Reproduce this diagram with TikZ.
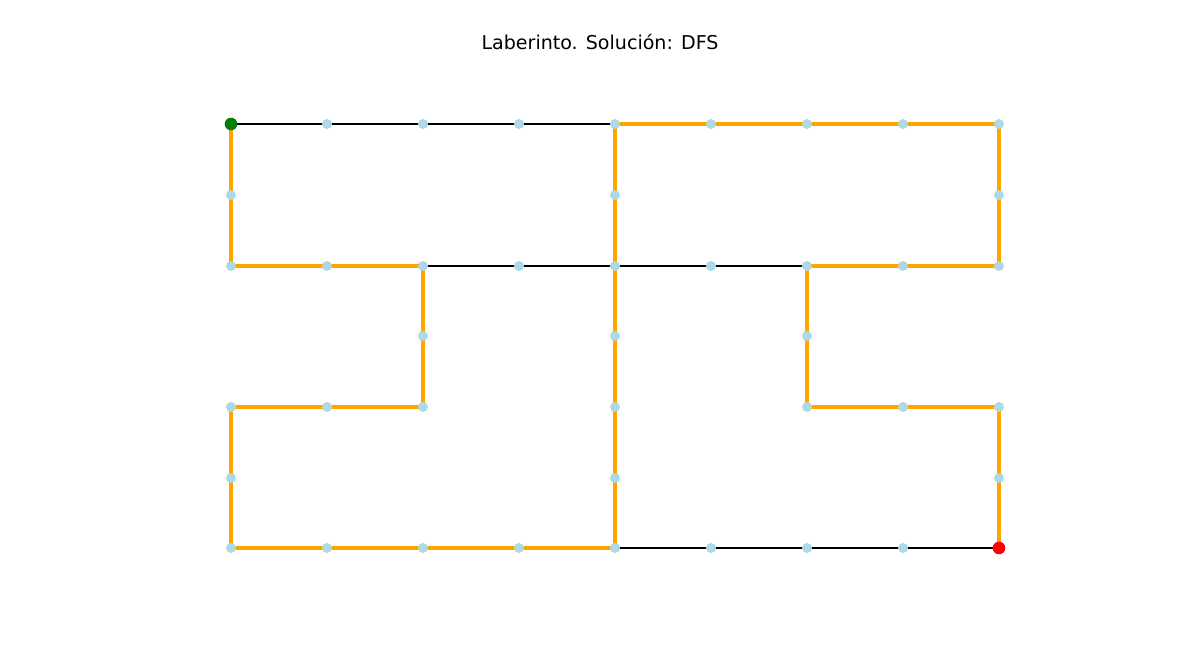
\documentclass[tikz,border=0pt]{standalone}
\usepackage{fontspec}
\setmainfont{DejaVu Sans}
\definecolor{mplorange}{HTML}{FFA500}
\definecolor{mplblue}{HTML}{ADD8E6}
\definecolor{mplgreen}{HTML}{008000}
\definecolor{mplred}{HTML}{FF0000}
\tikzset{
  pt/.style={circle,fill=mplblue,inner sep=0pt,minimum size=7.5pt},
  startpt/.style={circle,fill=mplgreen,inner sep=0pt,minimum size=9.5pt},
  endpt/.style={circle,fill=mplred,inner sep=0pt,minimum size=9.5pt},
  wall/.style={draw=black,line width=1pt},
  path/.style={draw=mplorange,line width=2.4pt},
}
\begin{document}
\begin{tikzpicture}[x=0.75pt,y=-0.75pt]
\useasboundingbox (0,0) rectangle (1200,666);
\node[font=\fontsize{14.3pt}{17pt}\selectfont] (title) at (600,42) {Laberinto. Solución: DFS};
% coordinates
\foreach \c/\x in {0/231,1/327,2/423,3/519,4/615,5/711,6/807,7/903,8/999}{
  \foreach \r/\y in {0/124,1/195,2/266,3/336,4/407,5/478,6/548}{
    \coordinate (c\c\r) at (\x,\y);
  }
}
% edges
\begin{scope}
\draw[wall] (c00) -- (c10) -- (c20) -- (c30) -- (c40);
\draw[wall] (c22) -- (c32) -- (c42) -- (c52) -- (c62);
\draw[wall] (c46) -- (c56) -- (c66) -- (c76) -- (c86);
\draw[path] (c40) -- (c50) -- (c60) -- (c70) -- (c80) -- (c81) -- (c82) -- (c72) -- (c62) -- (c63) -- (c64) -- (c74) -- (c84) -- (c85) -- (c86);
\draw[path] (c00) -- (c01) -- (c02) -- (c12) -- (c22) -- (c23) -- (c24) -- (c14) -- (c04) -- (c05) -- (c06) -- (c16) -- (c26) -- (c36) -- (c46) -- (c45) -- (c44) -- (c43) -- (c42) -- (c41) -- (c40);
\end{scope}
% nodes
\foreach \p in {10,20,30,40,50,60,70,80,01,41,81,02,12,22,32,42,52,62,72,82,23,43,63,04,14,24,44,64,74,84,05,45,85,06,16,26,36,46,56,66,76}{
  \node[pt] (n\p) at (c\p) {};
}
\node[startpt] (n00) at (c00) {};
\node[endpt] (n86) at (c86) {};
\end{tikzpicture}
\end{document}
